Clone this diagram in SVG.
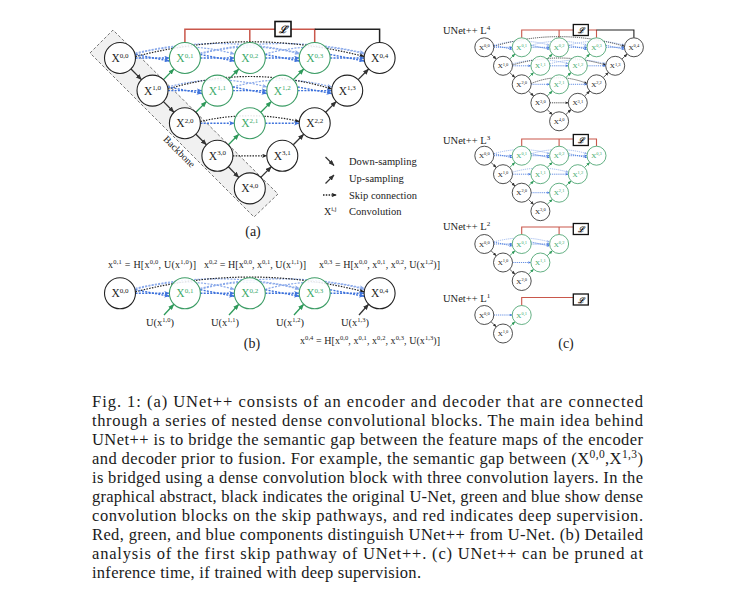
<svg xmlns="http://www.w3.org/2000/svg" width="748" height="606" viewBox="0 0 748 606">
<style>
.n{fill:#fff;fill-opacity:.88;stroke:#222;stroke-width:1.1}
.g{fill:#fff;fill-opacity:.88;stroke:#3d9d66;stroke-width:1.1}
.t{font-family:"Liberation Serif","Times New Roman",serif;fill:#222}
.tg{fill:#3daa6a}
.lb{font-size:11.5px}
.su{font-size:7px}
.cl{font-size:7px}
.cs{font-size:4.5px}
.dn{fill:none;stroke:#333;stroke-width:1.3;marker-end:url(#mk)}
.up{fill:none;stroke:#2e9a5a;stroke-width:1.3;marker-end:url(#mg)}
.sk{fill:none;stroke:#222;stroke-width:1.2;stroke-dasharray:1.5 1.3;marker-end:url(#msk)}
.sb{fill:none;stroke:#3f73dc;stroke-width:1.4;stroke-dasharray:2 1.3;marker-end:url(#msb)}
.sf{fill:none;stroke:#8aa9ea;stroke-width:1.2;stroke-dasharray:2 1.3;marker-end:url(#msf)}
.red{fill:none;stroke:#c9574b;stroke-width:1.5}
.blk{fill:none;stroke:#222;stroke-width:1.5}
.box{fill:#fff;stroke:#111;stroke-width:1.6}
.bx{font-family:"DejaVu Serif","Liberation Serif",serif;font-style:italic;font-weight:bold;fill:#111}
.pc .n,.pc .g{stroke-width:.8}
.pc .dn,.pc .up{stroke-width:.8}
.pc .sk,.pc .sb,.pc .sf{stroke-width:.8;stroke-dasharray:1.2 .9}
.pc .red,.pc .blk{stroke-width:1.1}
.pc .box{stroke-width:1.3}
.cap{font-family:"Liberation Serif","Times New Roman",serif;font-size:16.5px;fill:#1a1a1a}
.f{font-size:10px}
.fs{font-size:6.5px}
.leg{font-size:10.5px}
.pl{font-size:14px}
</style>
<defs>
<marker id="mk" viewBox="0 0 6 5" refX="5.6" refY="2.5" markerWidth="4.6" markerHeight="3.8" orient="auto"><path d="M0,0L6,2.5L0,5z" fill="#333"/></marker>
<marker id="mg" viewBox="0 0 6 5" refX="5.6" refY="2.5" markerWidth="4.6" markerHeight="3.8" orient="auto"><path d="M0,0L6,2.5L0,5z" fill="#2e9a5a"/></marker>
<marker id="msk" viewBox="0 0 6 5" refX="5.6" refY="2.5" markerWidth="4.2" markerHeight="3.5" orient="auto"><path d="M0,0L6,2.5L0,5L1.6,2.5z" fill="#222"/></marker>
<marker id="msb" viewBox="0 0 6 5" refX="5.6" refY="2.5" markerWidth="4" markerHeight="3.3" orient="auto"><path d="M0,0L6,2.5L0,5L1.6,2.5z" fill="#3f73dc"/></marker>
<marker id="msf" viewBox="0 0 6 5" refX="5.6" refY="2.5" markerWidth="4" markerHeight="3.3" orient="auto"><path d="M0,0L6,2.5L0,5L1.6,2.5z" fill="#8aa9ea"/></marker>
</defs>

<!-- ================= Panel (a) ================= -->
<g id="backbone">
<polygon points="90,53 113,30 278,194 254,217" fill="#f1f1f1" stroke="#555" stroke-width=".8" stroke-dasharray="3 2"/>
<text class="t" font-size="10" transform="translate(177,154) rotate(45)" text-anchor="middle">Backbone</text>
</g>

<g id="a-connectors">
<path class="red" d="M184.9,42.5V29.3H275M249.8,29.3V42.5M291,29.3H314.7V42.5"/>
<path class="blk" d="M314.7,29.3H379.6V42.5"/>
<!-- faint dense arcs -->
<path class="sf" d="M135.5,54Q185,40 234.3,54"/>
<path class="sf" d="M135.5,53Q217,34 299.2,53"/>
<path class="sf" d="M200.4,54Q250,40 299.2,54"/>
<path class="sf" d="M200.4,53Q282,34 364.1,53"/>
<path class="sf" d="M265.3,54Q315,40 364.1,54"/>
<path class="sf" d="M168,87Q217,73 266.8,87"/>
<path class="sf" d="M232.9,87Q282,73 331.7,87"/>
<!-- black skip arcs -->
<path class="sk" d="M135.5,56.5Q250,27 364.1,56.5"/>
<path class="sk" d="M168,89Q250,64 331.7,89"/>
<path class="sk" d="M200.4,121.5Q250,110 299.2,121.5"/>
<path class="sk" d="M232.9,155.8H266.8"/>
<!-- blue skip -->
<path class="sb" d="M135.5,58H169.4"/>
<path class="sb" d="M200.4,58H234.3"/>
<path class="sb" d="M265.3,58H299.2"/>
<path class="sb" d="M330.2,58H364.1"/>
<path class="sb" d="M135.5,54.5L169.4,61"/>
<path class="sb" d="M200.4,54.5L234.3,61"/>
<path class="sb" d="M265.3,54.5L299.2,61"/>
<path class="sb" d="M330.2,54.5L364.1,61"/>
<path class="sb" d="M168,90.6H201.9"/>
<path class="sb" d="M232.9,90.6H266.8"/>
<path class="sb" d="M297.8,90.6H331.7"/>
<path class="sb" d="M168,87L201.9,93.5"/>
<path class="sb" d="M232.9,87L266.8,93.5"/>
<path class="sb" d="M297.8,87L331.7,93.5"/>
<path class="sb" d="M200.4,123.2H234.3"/>
<path class="sb" d="M265.3,123.2H299.2"/>
<!-- down-sampling -->
<path class="dn" d="M131,69L141.5,79.6"/>
<path class="dn" d="M163.5,101.6L173.9,112.2"/>
<path class="dn" d="M195.9,134.2L206.4,144.8"/>
<path class="dn" d="M228.4,166.8L238.8,177.4"/>
<!-- up-sampling -->
<path class="up" d="M163.5,79.6L173.9,69"/>
<path class="up" d="M195.9,112.2L206.4,101.6"/>
<path class="up" d="M228.4,79.6L238.8,69"/>
<path class="up" d="M228.4,144.8L238.8,134.2"/>
<path class="up" d="M260.8,112.2L271.3,101.6"/>
<path class="up" d="M293.3,79.6L303.7,69"/>
<path class="dn" d="M260.8,177.4L271.3,166.8"/>
<path class="dn" d="M293.3,144.8L303.7,134.2"/>
<path class="dn" d="M325.7,112.2L336.2,101.6"/>
<path class="dn" d="M358.2,79.6L368.6,69"/>
</g>

<g id="a-loss"><rect class="box" x="275" y="21.5" width="16" height="15"/><text class="bx" x="283" y="33" font-size="10" text-anchor="middle">ℒ</text></g>

<g id="a-X00"><circle class="n" cx="120" cy="58" r="15.5"/><text class="t lb" x="120" y="62" text-anchor="middle">X<tspan class="su" dy="-4.5">0,0</tspan></text></g>
<g id="a-X10"><circle class="n" cx="152.5" cy="90.6" r="15.5"/><text class="t lb" x="152.5" y="94.6" text-anchor="middle">X<tspan class="su" dy="-4.5">1,0</tspan></text></g>
<g id="a-X20"><circle class="n" cx="184.9" cy="123.2" r="15.5"/><text class="t lb" x="184.9" y="127.2" text-anchor="middle">X<tspan class="su" dy="-4.5">2,0</tspan></text></g>
<g id="a-X30"><circle class="n" cx="217.4" cy="155.8" r="15.5"/><text class="t lb" x="217.4" y="159.8" text-anchor="middle">X<tspan class="su" dy="-4.5">3,0</tspan></text></g>
<g id="a-X40"><circle class="n" cx="249.8" cy="188.4" r="15.5"/><text class="t lb" x="249.8" y="192.4" text-anchor="middle">X<tspan class="su" dy="-4.5">4,0</tspan></text></g>
<g id="a-X01"><circle class="g" cx="184.9" cy="58" r="15.5"/><text class="t lb tg" x="184.9" y="62" text-anchor="middle">X<tspan class="su" dy="-4.5">0,1</tspan></text></g>
<g id="a-X11"><circle class="g" cx="217.4" cy="90.6" r="15.5"/><text class="t lb tg" x="217.4" y="94.6" text-anchor="middle">X<tspan class="su" dy="-4.5">1,1</tspan></text></g>
<g id="a-X21"><circle class="g" cx="249.8" cy="123.2" r="15.5"/><text class="t lb tg" x="249.8" y="127.2" text-anchor="middle">X<tspan class="su" dy="-4.5">2,1</tspan></text></g>
<g id="a-X31"><circle class="n" cx="282.3" cy="155.8" r="15.5"/><text class="t lb" x="282.3" y="159.8" text-anchor="middle">X<tspan class="su" dy="-4.5">3,1</tspan></text></g>
<g id="a-X02"><circle class="g" cx="249.8" cy="58" r="15.5"/><text class="t lb tg" x="249.8" y="62" text-anchor="middle">X<tspan class="su" dy="-4.5">0,2</tspan></text></g>
<g id="a-X12"><circle class="g" cx="282.3" cy="90.6" r="15.5"/><text class="t lb tg" x="282.3" y="94.6" text-anchor="middle">X<tspan class="su" dy="-4.5">1,2</tspan></text></g>
<g id="a-X22"><circle class="n" cx="314.7" cy="123.2" r="15.5"/><text class="t lb" x="314.7" y="127.2" text-anchor="middle">X<tspan class="su" dy="-4.5">2,2</tspan></text></g>
<g id="a-X03"><circle class="g" cx="314.7" cy="58" r="15.5"/><text class="t lb tg" x="314.7" y="62" text-anchor="middle">X<tspan class="su" dy="-4.5">0,3</tspan></text></g>
<g id="a-X13"><circle class="n" cx="347.2" cy="90.6" r="15.5"/><text class="t lb" x="347.2" y="94.6" text-anchor="middle">X<tspan class="su" dy="-4.5">1,3</tspan></text></g>
<g id="a-X04"><circle class="n" cx="379.6" cy="58" r="15.5"/><text class="t lb" x="379.6" y="62" text-anchor="middle">X<tspan class="su" dy="-4.5">0,4</tspan></text></g>

<g id="legend">
<path class="dn" d="M325.5,157L334,165.5"/>
<path class="dn" d="M325.5,183.5L334,175"/>
<path class="sk" d="M323,195H336.5" style="stroke-width:1.3"/>
<text class="t" x="324" y="214.5" font-size="10">X<tspan font-size="6.5" dy="-4">i,j</tspan></text>
<text class="t leg" x="349" y="165">Down-sampling</text>
<text class="t leg" x="349" y="182">Up-sampling</text>
<text class="t leg" x="349" y="198.5">Skip connection</text>
<text class="t leg" x="349" y="214.5">Convolution</text>
</g>
<text class="t pl" x="253" y="236" text-anchor="middle">(a)</text>

<!-- ================= Panel (b) ================= -->
<g id="b-formulas">
<text class="t f" x="108" y="268" textLength="88" lengthAdjust="spacing">x<tspan class="fs" dy="-4">0,1</tspan><tspan dy="4"> = H[x</tspan><tspan class="fs" dy="-4">0,0</tspan><tspan dy="4">, U(x</tspan><tspan class="fs" dy="-4">1,0</tspan><tspan dy="4">)]</tspan></text>
<text class="t f" x="204" y="268" textLength="102" lengthAdjust="spacing">x<tspan class="fs" dy="-4">0,2</tspan><tspan dy="4"> = H[x</tspan><tspan class="fs" dy="-4">0,0</tspan><tspan dy="4">, x</tspan><tspan class="fs" dy="-4">0,1</tspan><tspan dy="4">, U(x</tspan><tspan class="fs" dy="-4">1,1</tspan><tspan dy="4">)]</tspan></text>
<text class="t f" x="319" y="268" textLength="121" lengthAdjust="spacing">x<tspan class="fs" dy="-4">0,3</tspan><tspan dy="4"> = H[x</tspan><tspan class="fs" dy="-4">0,0</tspan><tspan dy="4">, x</tspan><tspan class="fs" dy="-4">0,1</tspan><tspan dy="4">, x</tspan><tspan class="fs" dy="-4">0,2</tspan><tspan dy="4">, U(x</tspan><tspan class="fs" dy="-4">1,2</tspan><tspan dy="4">)]</tspan></text>
<text class="t f" x="300" y="344" textLength="140" lengthAdjust="spacing">x<tspan class="fs" dy="-4">0,4</tspan><tspan dy="4"> = H[x</tspan><tspan class="fs" dy="-4">0,0</tspan><tspan dy="4">, x</tspan><tspan class="fs" dy="-4">0,1</tspan><tspan dy="4">, x</tspan><tspan class="fs" dy="-4">0,2</tspan><tspan dy="4">, x</tspan><tspan class="fs" dy="-4">0,3</tspan><tspan dy="4">, U(x</tspan><tspan class="fs" dy="-4">1,3</tspan><tspan dy="4">)]</tspan></text>
</g>
<g id="b-connectors">
<path class="sf" d="M135.5,289.3Q185,275.3 234.3,289.3"/>
<path class="sf" d="M135.5,288.3Q217,269.3 299.2,288.3"/>
<path class="sf" d="M200.4,289.3Q250,275.3 299.2,289.3"/>
<path class="sf" d="M200.4,288.3Q282,269.3 364.1,288.3"/>
<path class="sf" d="M265.3,289.3Q315,275.3 364.1,289.3"/>
<path class="sk" d="M135.5,291.8Q250,262.3 364.1,291.8"/>
<path class="sb" d="M135.5,293.3H169.4"/>
<path class="sb" d="M200.4,293.3H234.3"/>
<path class="sb" d="M265.3,293.3H299.2"/>
<path class="sb" d="M330.2,293.3H364.1"/>
<path class="sb" d="M135.5,289.8L169.4,296.3"/>
<path class="sb" d="M200.4,289.8L234.3,296.3"/>
<path class="sb" d="M265.3,289.8L299.2,296.3"/>
<path class="sb" d="M330.2,289.8L364.1,296.3"/>
<path class="up" d="M164,315L173.9,304.3"/>
<path class="up" d="M229,315L238.8,304.3"/>
<path class="up" d="M294,315L303.7,304.3"/>
<path class="dn" d="M359,315L368.6,304.3"/>
</g>
<g id="b-X00"><circle class="n" cx="120" cy="293.3" r="15.5"/><text class="t lb" x="120" y="297.3" text-anchor="middle">X<tspan class="su" dy="-4.5">0,0</tspan></text></g>
<g id="b-X01"><circle class="g" cx="184.9" cy="293.3" r="15.5"/><text class="t lb tg" x="184.9" y="297.3" text-anchor="middle">X<tspan class="su" dy="-4.5">0,1</tspan></text></g>
<g id="b-X02"><circle class="g" cx="249.8" cy="293.3" r="15.5"/><text class="t lb tg" x="249.8" y="297.3" text-anchor="middle">X<tspan class="su" dy="-4.5">0,2</tspan></text></g>
<g id="b-X03"><circle class="g" cx="314.7" cy="293.3" r="15.5"/><text class="t lb tg" x="314.7" y="297.3" text-anchor="middle">X<tspan class="su" dy="-4.5">0,3</tspan></text></g>
<g id="b-X04"><circle class="n" cx="379.6" cy="293.3" r="15.5"/><text class="t lb" x="379.6" y="297.3" text-anchor="middle">X<tspan class="su" dy="-4.5">0,4</tspan></text></g>
<g id="b-ulabels">
<text class="t leg" x="160" y="326" text-anchor="middle">U(x<tspan class="fs" dy="-4">1,0</tspan><tspan dy="4">)</tspan></text>
<text class="t leg" x="225" y="326" text-anchor="middle">U(x<tspan class="fs" dy="-4">1,1</tspan><tspan dy="4">)</tspan></text>
<text class="t leg" x="290" y="326" text-anchor="middle">U(x<tspan class="fs" dy="-4">1,2</tspan><tspan dy="4">)</tspan></text>
<text class="t leg" x="355" y="326" text-anchor="middle">U(x<tspan class="fs" dy="-4">1,3</tspan><tspan dy="4">)</tspan></text>
</g>
<text class="t pl" x="252" y="348" text-anchor="middle">(b)</text>

<!-- ================= Panel (c) ================= -->
<g class="pc">
<!-- L4 -->
<text class="t leg" x="443" y="33.5">UNet++ L<tspan font-size="7" dy="-4">4</tspan></text>
<g id="c4-connectors">
<path class="red" d="M521.7,37.8V30H573.3M559.1,30V37.8M588.3,30H596.5V37.8"/>
<path class="blk" d="M596.5,30H633.9V37.8"/>
<path class="sf" d="M493.8,45.3Q521.7,37 549.6,45.3"/>
<path class="sf" d="M531.2,45.3Q559.1,37 587,45.3"/>
<path class="sf" d="M568.6,45.3Q596.5,37 624.4,45.3"/>
<path class="sf" d="M512.5,63.8Q540.4,56 568.3,63.8"/>
<path class="sf" d="M549.9,63.8Q577.8,56 605.7,63.8"/>
<path class="sk" d="M493.8,46.3Q559,27 624.4,46.3"/>
<path class="sk" d="M512.5,65Q559,51 605.7,65"/>
<path class="sk" d="M531.2,83.5Q559,72 587,83.5"/>
<path class="sk" d="M549.9,102.8H568.3"/>
<path class="sb" d="M493.8,47.3H512.2"/>
<path class="sb" d="M531.2,47.3H549.6"/>
<path class="sb" d="M568.6,47.3H587"/>
<path class="sb" d="M606,47.3H624.4"/>
<path class="sb" d="M493.8,45.3L512.2,49.3"/>
<path class="sb" d="M531.2,45.3L549.6,49.3"/>
<path class="sb" d="M568.6,45.3L587,49.3"/>
<path class="sb" d="M606,45.3L624.4,49.3"/>
<path class="sb" d="M512.5,65.8H530.9"/>
<path class="sb" d="M549.9,65.8H568.3"/>
<path class="sb" d="M587.3,65.8H605.7"/>
<path class="sb" d="M531.2,84.3H549.6"/>
<path class="sb" d="M568.6,84.3H587"/>
<path class="dn" d="M491,54L496.3,59.1"/>
<path class="dn" d="M509.7,72.5L515,77.6"/>
<path class="dn" d="M528.4,91L533.7,96.1"/>
<path class="dn" d="M547.1,109.5L552.4,114.6"/>
<path class="up" d="M509.7,59.1L515,54"/>
<path class="up" d="M528.4,77.6L533.7,72.5"/>
<path class="up" d="M547.1,59.1L552.4,54"/>
<path class="up" d="M547.1,96.1L552.4,91"/>
<path class="up" d="M565.8,77.6L571.1,72.5"/>
<path class="up" d="M584.5,59.1L589.8,54"/>
<path class="dn" d="M565.8,114.6L571.1,109.5"/>
<path class="dn" d="M584.5,96.1L589.8,91"/>
<path class="dn" d="M603.2,77.6L608.5,72.5"/>
<path class="dn" d="M621.9,59.1L627.2,54"/>
</g>
<g id="c4-loss"><rect class="box" x="573.3" y="24.5" width="15" height="11"/><text class="bx" x="580.8" y="33" font-size="7.5" text-anchor="middle">ℒ</text></g>
<g id="c4-X00"><circle class="n" cx="484.3" cy="47.3" r="9.5"/><text class="t cl" x="484.3" y="49.8" text-anchor="middle">X<tspan class="cs" dy="-2.8">0,0</tspan></text></g>
<g id="c4-X10"><circle class="n" cx="503" cy="65.8" r="9.5"/><text class="t cl" x="503" y="68.3" text-anchor="middle">X<tspan class="cs" dy="-2.8">1,0</tspan></text></g>
<g id="c4-X20"><circle class="n" cx="521.7" cy="84.3" r="9.5"/><text class="t cl" x="521.7" y="86.8" text-anchor="middle">X<tspan class="cs" dy="-2.8">2,0</tspan></text></g>
<g id="c4-X30"><circle class="n" cx="540.4" cy="102.8" r="9.5"/><text class="t cl" x="540.4" y="105.3" text-anchor="middle">X<tspan class="cs" dy="-2.8">3,0</tspan></text></g>
<g id="c4-X40"><circle class="n" cx="559.1" cy="121.3" r="9.5"/><text class="t cl" x="559.1" y="123.8" text-anchor="middle">X<tspan class="cs" dy="-2.8">4,0</tspan></text></g>
<g id="c4-X01"><circle class="g" cx="521.7" cy="47.3" r="9.5"/><text class="t cl tg" x="521.7" y="49.8" text-anchor="middle">X<tspan class="cs" dy="-2.8">0,1</tspan></text></g>
<g id="c4-X11"><circle class="g" cx="540.4" cy="65.8" r="9.5"/><text class="t cl tg" x="540.4" y="68.3" text-anchor="middle">X<tspan class="cs" dy="-2.8">1,1</tspan></text></g>
<g id="c4-X21"><circle class="g" cx="559.1" cy="84.3" r="9.5"/><text class="t cl tg" x="559.1" y="86.8" text-anchor="middle">X<tspan class="cs" dy="-2.8">2,1</tspan></text></g>
<g id="c4-X31"><circle class="n" cx="577.8" cy="102.8" r="9.5"/><text class="t cl" x="577.8" y="105.3" text-anchor="middle">X<tspan class="cs" dy="-2.8">3,1</tspan></text></g>
<g id="c4-X02"><circle class="g" cx="559.1" cy="47.3" r="9.5"/><text class="t cl tg" x="559.1" y="49.8" text-anchor="middle">X<tspan class="cs" dy="-2.8">0,2</tspan></text></g>
<g id="c4-X12"><circle class="g" cx="577.8" cy="65.8" r="9.5"/><text class="t cl tg" x="577.8" y="68.3" text-anchor="middle">X<tspan class="cs" dy="-2.8">1,2</tspan></text></g>
<g id="c4-X22"><circle class="n" cx="596.5" cy="84.3" r="9.5"/><text class="t cl" x="596.5" y="86.8" text-anchor="middle">X<tspan class="cs" dy="-2.8">2,2</tspan></text></g>
<g id="c4-X03"><circle class="g" cx="596.5" cy="47.3" r="9.5"/><text class="t cl tg" x="596.5" y="49.8" text-anchor="middle">X<tspan class="cs" dy="-2.8">0,3</tspan></text></g>
<g id="c4-X13"><circle class="n" cx="615.2" cy="65.8" r="9.5"/><text class="t cl" x="615.2" y="68.3" text-anchor="middle">X<tspan class="cs" dy="-2.8">1,3</tspan></text></g>
<g id="c4-X04"><circle class="n" cx="633.9" cy="47.3" r="9.5"/><text class="t cl" x="633.9" y="49.8" text-anchor="middle">X<tspan class="cs" dy="-2.8">0,4</tspan></text></g>

<!-- L3 -->
<text class="t leg" x="443" y="143.5">UNet++ L<tspan font-size="7" dy="-4">3</tspan></text>
<g id="c3-connectors">
<path class="red" d="M521.7,146.2V139H573.3M559.1,139V146.2M588.3,139H596.5V146.2"/>
<path class="sf" d="M493.8,153.7Q521.7,145.4 549.6,153.7"/>
<path class="sf" d="M531.2,153.7Q559.1,145.4 587,153.7"/>
<path class="sf" d="M512.5,172.2Q540.4,164 568.3,172.2"/>
<path class="sb" d="M493.8,155.7H512.2"/>
<path class="sb" d="M531.2,155.7H549.6"/>
<path class="sb" d="M568.6,155.7H587"/>
<path class="sb" d="M493.8,153.7L512.2,157.7"/>
<path class="sb" d="M531.2,153.7L549.6,157.7"/>
<path class="sb" d="M568.6,153.7L587,157.7"/>
<path class="sb" d="M512.5,174.2H530.9"/>
<path class="sb" d="M549.9,174.2H568.3"/>
<path class="sb" d="M531.2,192.7H549.6"/>
<path class="dn" d="M491,162.4L496.3,167.5"/>
<path class="dn" d="M509.7,180.9L515,186"/>
<path class="dn" d="M528.4,199.4L533.7,204.5"/>
<path class="up" d="M509.7,167.5L515,162.4"/>
<path class="up" d="M528.4,186L533.7,180.9"/>
<path class="up" d="M547.1,167.5L552.4,162.4"/>
<path class="up" d="M547.1,204.5L552.4,199.4"/>
<path class="up" d="M565.8,186L571.1,180.9"/>
<path class="up" d="M584.5,167.5L589.8,162.4"/>
</g>
<g id="c3-loss"><rect class="box" x="573.3" y="134.5" width="15" height="11"/><text class="bx" x="580.8" y="143" font-size="7.5" text-anchor="middle">ℒ</text></g>
<g id="c3-X00"><circle class="n" cx="484.3" cy="155.7" r="9.5"/><text class="t cl" x="484.3" y="158.2" text-anchor="middle">X<tspan class="cs" dy="-2.8">0,0</tspan></text></g>
<g id="c3-X10"><circle class="n" cx="503" cy="174.2" r="9.5"/><text class="t cl" x="503" y="176.7" text-anchor="middle">X<tspan class="cs" dy="-2.8">1,0</tspan></text></g>
<g id="c3-X20"><circle class="n" cx="521.7" cy="192.7" r="9.5"/><text class="t cl" x="521.7" y="195.2" text-anchor="middle">X<tspan class="cs" dy="-2.8">2,0</tspan></text></g>
<g id="c3-X30"><circle class="n" cx="540.4" cy="211.2" r="9.5"/><text class="t cl" x="540.4" y="213.7" text-anchor="middle">X<tspan class="cs" dy="-2.8">3,0</tspan></text></g>
<g id="c3-X01"><circle class="g" cx="521.7" cy="155.7" r="9.5"/><text class="t cl tg" x="521.7" y="158.2" text-anchor="middle">X<tspan class="cs" dy="-2.8">0,1</tspan></text></g>
<g id="c3-X11"><circle class="g" cx="540.4" cy="174.2" r="9.5"/><text class="t cl tg" x="540.4" y="176.7" text-anchor="middle">X<tspan class="cs" dy="-2.8">1,1</tspan></text></g>
<g id="c3-X21"><circle class="g" cx="559.1" cy="192.7" r="9.5"/><text class="t cl tg" x="559.1" y="195.2" text-anchor="middle">X<tspan class="cs" dy="-2.8">2,1</tspan></text></g>
<g id="c3-X02"><circle class="g" cx="559.1" cy="155.7" r="9.5"/><text class="t cl tg" x="559.1" y="158.2" text-anchor="middle">X<tspan class="cs" dy="-2.8">0,2</tspan></text></g>
<g id="c3-X12"><circle class="g" cx="577.8" cy="174.2" r="9.5"/><text class="t cl tg" x="577.8" y="176.7" text-anchor="middle">X<tspan class="cs" dy="-2.8">1,2</tspan></text></g>
<g id="c3-X03"><circle class="g" cx="596.5" cy="155.7" r="9.5"/><text class="t cl tg" x="596.5" y="158.2" text-anchor="middle">X<tspan class="cs" dy="-2.8">0,3</tspan></text></g>

<!-- L2 -->
<text class="t leg" x="443" y="230">UNet++ L<tspan font-size="7" dy="-4">2</tspan></text>
<g id="c2-connectors">
<path class="red" d="M521.7,234.5V227H573.3M559.1,227V234.5"/>
<path class="sf" d="M493.8,242Q521.7,234 549.6,242"/>
<path class="sb" d="M493.8,244H512.2"/>
<path class="sb" d="M531.2,244H549.6"/>
<path class="sb" d="M493.8,242L512.2,246"/>
<path class="sb" d="M531.2,242L549.6,246"/>
<path class="sb" d="M512.5,262.5H530.9"/>
<path class="dn" d="M491,250.7L496.3,255.8"/>
<path class="dn" d="M509.7,269.2L515,274.3"/>
<path class="up" d="M509.7,255.8L515,250.7"/>
<path class="up" d="M528.4,274.3L533.7,269.2"/>
<path class="up" d="M547.1,255.8L552.4,250.7"/>
</g>
<g id="c2-loss"><rect class="box" x="573.3" y="223.5" width="15" height="11"/><text class="bx" x="580.8" y="232" font-size="7.5" text-anchor="middle">ℒ</text></g>
<g id="c2-X00"><circle class="n" cx="484.3" cy="244" r="9.5"/><text class="t cl" x="484.3" y="246.5" text-anchor="middle">X<tspan class="cs" dy="-2.8">0,0</tspan></text></g>
<g id="c2-X10"><circle class="n" cx="503" cy="262.5" r="9.5"/><text class="t cl" x="503" y="265" text-anchor="middle">X<tspan class="cs" dy="-2.8">1,0</tspan></text></g>
<g id="c2-X20"><circle class="n" cx="521.7" cy="281" r="9.5"/><text class="t cl" x="521.7" y="283.5" text-anchor="middle">X<tspan class="cs" dy="-2.8">2,0</tspan></text></g>
<g id="c2-X01"><circle class="g" cx="521.7" cy="244" r="9.5"/><text class="t cl tg" x="521.7" y="246.5" text-anchor="middle">X<tspan class="cs" dy="-2.8">0,1</tspan></text></g>
<g id="c2-X11"><circle class="g" cx="540.4" cy="262.5" r="9.5"/><text class="t cl tg" x="540.4" y="265" text-anchor="middle">X<tspan class="cs" dy="-2.8">1,1</tspan></text></g>
<g id="c2-X02"><circle class="g" cx="559.1" cy="244" r="9.5"/><text class="t cl tg" x="559.1" y="246.5" text-anchor="middle">X<tspan class="cs" dy="-2.8">0,2</tspan></text></g>

<!-- L1 -->
<text class="t leg" x="443" y="301.5">UNet++ L<tspan font-size="7" dy="-4">1</tspan></text>
<g id="c1-connectors">
<path class="red" d="M521.7,305.5V297.5H573.3"/>
<path class="sb" d="M493.8,315H512.2"/>
<path class="dn" d="M491,321.7L496.3,326.8"/>
<path class="up" d="M509.7,326.8L515,321.7"/>
</g>
<g id="c1-loss"><rect class="box" x="573.3" y="294" width="15" height="11"/><text class="bx" x="580.8" y="302.5" font-size="7.5" text-anchor="middle">ℒ</text></g>
<g id="c1-X00"><circle class="n" cx="484.3" cy="315" r="9.5"/><text class="t cl" x="484.3" y="317.5" text-anchor="middle">X<tspan class="cs" dy="-2.8">0,0</tspan></text></g>
<g id="c1-X10"><circle class="n" cx="503" cy="333.5" r="9.5"/><text class="t cl" x="503" y="336" text-anchor="middle">X<tspan class="cs" dy="-2.8">1,0</tspan></text></g>
<g id="c1-X01"><circle class="g" cx="521.7" cy="315" r="9.5"/><text class="t cl tg" x="521.7" y="317.5" text-anchor="middle">X<tspan class="cs" dy="-2.8">0,1</tspan></text></g>
</g>
<text class="t pl" x="566" y="348" text-anchor="middle">(c)</text>

<!-- ================= Caption ================= -->
<g id="caption">
<text class="cap" x="92" y="407" textLength="551" lengthAdjust="spacing">Fig. 1: (a) UNet++ consists of an encoder and decoder that are connected</text>
<text class="cap" x="92" y="426" textLength="551" lengthAdjust="spacing">through a series of nested dense convolutional blocks. The main idea behind</text>
<text class="cap" x="92" y="445" textLength="551" lengthAdjust="spacing">UNet++ is to bridge the semantic gap between the feature maps of the encoder</text>
<text class="cap" x="92" y="464" textLength="551" lengthAdjust="spacing">and decoder prior to fusion. For example, the semantic gap between (X<tspan font-size="11.5" dy="-6">0,0</tspan><tspan dy="6">,X</tspan><tspan font-size="11.5" dy="-6">1,3</tspan><tspan dy="6">)</tspan></text>
<text class="cap" x="92" y="483" textLength="551" lengthAdjust="spacing">is bridged using a dense convolution block with three convolution layers. In the</text>
<text class="cap" x="92" y="502" textLength="551" lengthAdjust="spacing">graphical abstract, black indicates the original U-Net, green and blue show dense</text>
<text class="cap" x="92" y="521" textLength="551" lengthAdjust="spacing">convolution blocks on the skip pathways, and red indicates deep supervision.</text>
<text class="cap" x="92" y="540" textLength="551" lengthAdjust="spacing">Red, green, and blue components distinguish UNet++ from U-Net. (b) Detailed</text>
<text class="cap" x="92" y="559" textLength="551" lengthAdjust="spacing">analysis of the first skip pathway of UNet++. (c) UNet++ can be pruned at</text>
<text class="cap" x="92" y="578" textLength="329" lengthAdjust="spacing">inference time, if trained with deep supervision.</text>
</g>
</svg>
